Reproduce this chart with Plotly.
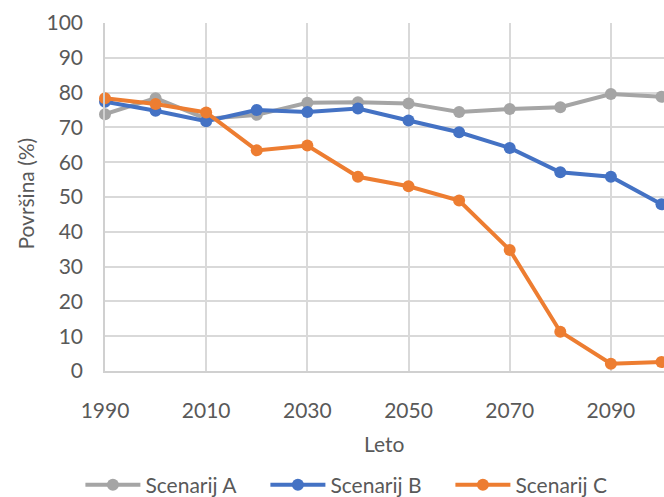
import plotly.graph_objects as go

# Years simulated and share of area (%) under each scenario
years = [1990, 2000, 2010, 2020, 2030, 2040, 2050, 2060, 2070, 2080, 2090, 2100]
scenarij_a = [73.8, 78.4, 72.5, 73.6, 77.1, 77.2, 76.9, 74.4, 75.3, 75.8, 79.6, 78.8]
scenarij_b = [77.4, 74.8, 71.8, 75.0, 74.4, 75.4, 72.0, 68.6, 64.1, 57.1, 55.8, 47.9]
scenarij_c = [78.4, 76.7, 74.3, 63.4, 64.8, 55.8, 53.1, 49.0, 34.8, 11.3, 2.1, 2.6]

x_ticks = [1990, 2010, 2030, 2050, 2070, 2090]
y_ticks = list(range(0, 101, 10))

series = [
    ("Scenarij A", scenarij_a, "#A5A5A5"),
    ("Scenarij B", scenarij_b, "#4472C4"),
    ("Scenarij C", scenarij_c, "#ED7D31"),
]

FONT = "Lato"
TXT = "#595959"
GRID = "#D9D9D9"

fig = go.Figure()
for name, vals, color in series:
    fig.add_trace(go.Scatter(
        x=years, y=vals, name=name, mode="lines+markers",
        line=dict(color=color, width=4),
        marker=dict(color=color, size=12),
        cliponaxis=False,
    ))

fig.update_layout(
    width=664, height=497,
    margin=dict(l=105, r=0, t=23, b=126, autoexpand=False),
    paper_bgcolor="white", plot_bgcolor="white",
    font=dict(family=FONT, color=TXT, size=21),
    showlegend=True,
    legend=dict(
        orientation="h", x=-0.044, xanchor="left", y=-0.328, yanchor="middle",
        font=dict(size=21, color=TXT), entrywidth=115, itemwidth=55,
        traceorder="normal", bgcolor="rgba(0,0,0,0)",
    ),
    annotations=[
        dict(text="Leto", xref="paper", yref="paper", x=0.5, y=-0.207,
             xanchor="center", yanchor="middle", showarrow=False,
             font=dict(size=21, color=TXT)),
        dict(text="Površina (%)", xref="paper", yref="paper", x=-0.143, y=0.51,
             xanchor="center", yanchor="middle", textangle=-90, showarrow=False,
             font=dict(size=21, color=TXT)),
    ],
)

fig.update_xaxes(
    range=[1990, 2100.5], tickvals=x_ticks, ticktext=[str(t) for t in x_ticks],
    showgrid=True, gridcolor=GRID, gridwidth=1.5,
    showline=True, linecolor="#D0D0D0", linewidth=1.5,
    zeroline=False, ticks="", ticklabelstandoff=20,
    tickfont=dict(size=21, color=TXT),
)
fig.update_yaxes(
    range=[0, 100], tickvals=y_ticks,
    showgrid=True, gridcolor=GRID, gridwidth=1.5,
    showline=True, linecolor="#D0D0D0", linewidth=1.5,
    zeroline=False, ticks="", ticklabelstandoff=16,
    tickfont=dict(size=21, color=TXT),
)

fig.write_html("out.html")
